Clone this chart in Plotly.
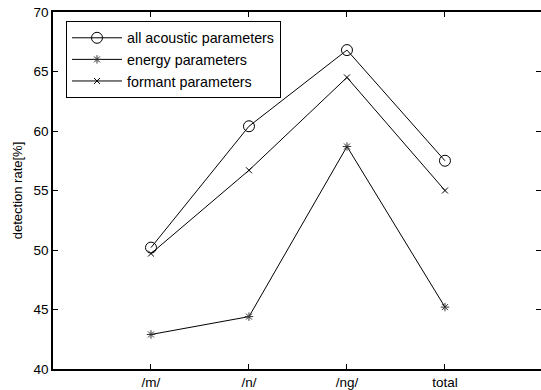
import plotly.graph_objects as go

categories = ["/m/", "/n/", "/ng/", "total"]
x_pos = [1, 2, 3, 4]
all_acoustic = [50.2, 60.4, 66.8, 57.5]
energy = [42.9, 44.4, 58.7, 45.2]
formant = [49.7, 56.7, 64.5, 55.0]
y_ticks = [40, 45, 50, 55, 60, 65, 70]

FONT = "Liberation Sans, Arial, Helvetica, sans-serif"

fig = go.Figure()
fig.add_trace(go.Scatter(x=x_pos, y=all_acoustic, mode="lines+markers", name="all acoustic parameters",
                         line=dict(color="black", width=1),
                         marker=dict(symbol="circle-open", size=11, color="black", line=dict(width=1))))
fig.add_trace(go.Scatter(x=x_pos, y=energy, mode="lines+markers", name="energy parameters",
                         line=dict(color="black", width=1),
                         marker=dict(symbol="asterisk-open", size=7, color="#333", line=dict(width=1))))
fig.add_trace(go.Scatter(x=x_pos, y=formant, mode="lines+markers", name="formant parameters",
                         line=dict(color="black", width=1),
                         marker=dict(symbol="x-thin-open", size=6, color="black", line=dict(width=1))))
# helper trace so the right-hand tick axis is drawn
fig.add_trace(go.Scatter(x=x_pos, y=all_acoustic, yaxis="y2", mode="lines", opacity=0,
                         showlegend=False, hoverinfo="skip"))

fig.update_layout(
    width=541, height=390,
    margin=dict(l=53, r=0, t=12, b=21),
    paper_bgcolor="white", plot_bgcolor="white",
    font=dict(family=FONT, size=13, color="black"),
    showlegend=True,
    legend=dict(x=(66 - 53) / 488, y=1 - (21 - 12) / 357, xanchor="left", yanchor="top",
                bordercolor="black", borderwidth=1, bgcolor="white",
                font=dict(size=14.3), itemwidth=50, tracegroupgap=0),
    xaxis=dict(range=[0, 4.98], tickvals=x_pos, ticktext=categories,
               ticks="inside", ticklen=5, tickwidth=1, tickcolor="black",
               showline=True, linecolor="black", linewidth=1.5, mirror="ticks",
               showgrid=False, zeroline=False, tickfont=dict(size=13.5)),
    yaxis=dict(range=[40, 70], tickvals=y_ticks,
               ticks="inside", ticklen=5, tickwidth=1, tickcolor="black",
               showline=True, linecolor="black", linewidth=1.5, mirror=False,
               showgrid=False, zeroline=False, tickfont=dict(size=13.5),
               title=dict(text="detection rate[%]", font=dict(size=13), standoff=8)),
    yaxis2=dict(range=[40, 70], tickvals=y_ticks, overlaying="y", side="right",
                ticks="inside", ticklen=5, tickwidth=1, tickcolor="black",
                showline=False, showticklabels=False, showgrid=False, zeroline=False),
)

fig.write_html("out.html", config={"displayModeBar": False},
               post_script="document.body.style.margin='0';document.body.style.overflow='hidden';")
